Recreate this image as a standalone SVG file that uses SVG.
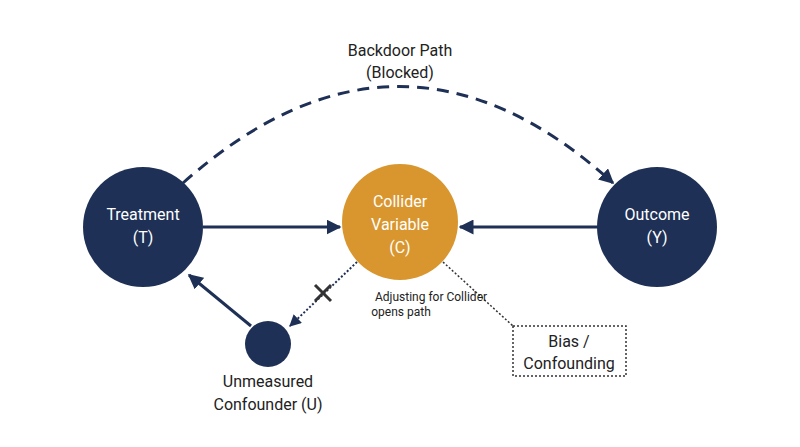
<svg xmlns="http://www.w3.org/2000/svg" width="800" height="447" viewBox="0 0 800 447">
<style>
text{font-family:Roboto,"Liberation Sans",sans-serif;fill:#222;text-anchor:middle}
.nv{fill:#1e3055}.w{fill:#fff;font-size:16px}
.ln{stroke:#1e3055;stroke-width:3;fill:none}
</style>
<defs>
<marker id="a" viewBox="0 0 10 10" refX="9" refY="5" markerWidth="5" markerHeight="5" orient="auto"><path d="M0,0L10,5L0,10z" fill="#1e3055"/></marker>
<marker id="b" viewBox="0 0 10 10" refX="9" refY="5" markerWidth="6" markerHeight="6" orient="auto"><path d="M0,0L10,5L0,10z" fill="#1e3055"/></marker>
</defs>
<rect width="800" height="447" fill="#fff"/>
<g id="connectors">
<path class="ln" stroke-dasharray="12,8" d="M183,183 Q400,-10 613,183" marker-end="url(#a)"/>
<line class="ln" x1="203" y1="227" x2="340" y2="227" marker-end="url(#a)"/>
<line class="ln" x1="598" y1="227" x2="460" y2="227" marker-end="url(#a)"/>
<line class="ln" x1="251" y1="326" x2="189" y2="275" marker-end="url(#a)"/>
<line x1="357" y1="262" x2="290" y2="326" stroke="#1e3055" stroke-width="2" stroke-dasharray="2,2" marker-end="url(#b)"/>
<line x1="443" y1="262" x2="513" y2="326" stroke="#333" stroke-width="1.5" stroke-dasharray="2,2"/>
<path d="M315,285L331,301M331,285L315,301" stroke="#333" stroke-width="3"/>
<text x="431" y="301" font-size="12">Adjusting for Collider</text>
<text x="401" y="316" font-size="12">opens path</text>
<text x="400" y="56" font-size="16">Backdoor Path</text>
<text x="400" y="78" font-size="16">(Blocked)</text>
</g>
<g id="T"><circle class="nv" cx="143" cy="227" r="60"/><text class="w" x="143" y="220">Treatment</text><text class="w" x="143" y="243">(T)</text></g>
<g id="C"><circle cx="400" cy="222" r="58" fill="#d9962e"/><text class="w" x="400" y="207">Collider</text><text class="w" x="400" y="230">Variable</text><text class="w" x="400" y="253">(C)</text></g>
<g id="Y"><circle class="nv" cx="657" cy="227" r="60"/><text class="w" x="657" y="220">Outcome</text><text class="w" x="657" y="243">(Y)</text></g>
<g id="U"><circle class="nv" cx="268" cy="344" r="23"/><text x="268" y="387" font-size="16">Unmeasured</text><text x="268" y="410" font-size="16">Confounder (U)</text></g>
<g id="B"><rect x="513" y="326" width="113" height="50" fill="#fff" stroke="#333" stroke-width="1.5" stroke-dasharray="2,2"/><text x="569" y="347" font-size="16">Bias /</text><text x="569" y="369" font-size="16">Confounding</text></g>
</svg>
